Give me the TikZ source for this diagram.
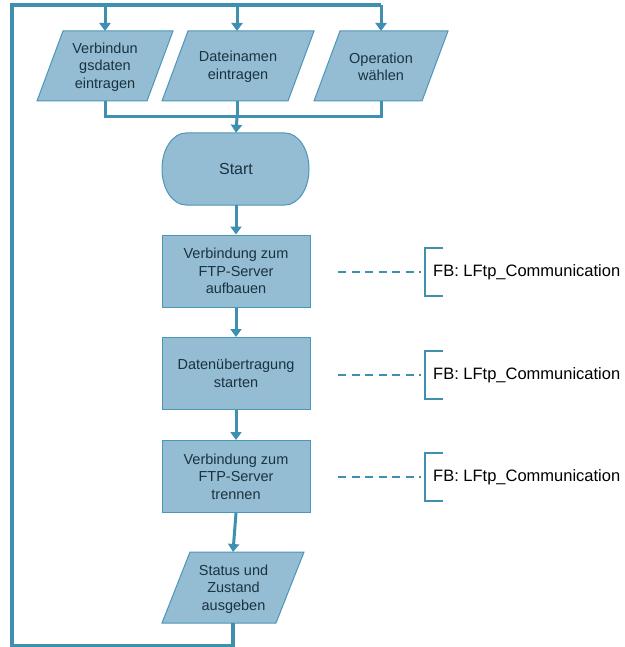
\documentclass[tikz,border=0pt]{standalone}
\usepackage{fontspec}
\setmainfont{Liberation Sans}
\usetikzlibrary{arrows.meta}
\definecolor{lineC}{HTML}{3F8FB0}
\definecolor{fillC}{HTML}{94BCD2}
\definecolor{edgeC}{HTML}{4B97B8}
\definecolor{txtC}{HTML}{1A3340}
\tikzset{
  flow/.style={draw=lineC, line width=3pt, -{Triangle[width=11pt,length=8pt]}},
  plain/.style={draw=lineC, line width=3pt},
  procbox/.style={draw=edgeC, fill=fillC, line width=1pt, minimum width=148pt, minimum height=72pt,
    align=center, font=\fontsize{14.5}{17.5}\selectfont, text=txtC, inner sep=0pt},
  starttext/.style={minimum width=147pt, minimum height=72pt, inner sep=0pt, font=\fontsize{16}{19}\selectfont, text=txtC},
  para/.style={draw=edgeC, fill=fillC, line width=1pt},
  ptext/.style={align=center, font=\fontsize{14.5}{17.5}\selectfont, text=txtC, inner sep=0pt},
  dashlink/.style={draw=lineC, line width=1.5pt, dash pattern=on 8pt off 5.5pt},
  brack/.style={draw=lineC, line width=1.5pt},
  fblabel/.style={anchor=west, font=\fontsize{16.5}{19}\selectfont, text=black, inner sep=0pt},
}
\begin{document}
\begin{tikzpicture}[x=1pt,y=-1pt]
\useasboundingbox (0,0) rectangle (624,647);
% input parallelograms
\draw[para] (37,101) -- (63,31) -- (173,31) -- (147,101) -- cycle;
\node[ptext] (p1) at (105,67) {Verbindun\\gsdaten\\eintragen};
\draw[para] (162,101) -- (188,31) -- (314,31) -- (288,101) -- cycle;
\node[ptext] (p2) at (238,67) {Dateinamen\\eintragen};
\draw[para] (314,101) -- (340,31) -- (448,31) -- (422,101) -- cycle;
\node[ptext] (p3) at (381,67) {Operation\\wählen};
\coordinate (p1t) at (105,31); \coordinate (p1b) at (105,101);
\coordinate (p2t) at (237,31); \coordinate (p2b) at (237,101);
\coordinate (p3t) at (381,31); \coordinate (p3b) at (381,101);
% start terminator
\draw[para] (186,133) -- (285,133) arc[start angle=-90, end angle=90, x radius=24, y radius=36]
  -- (186,205) arc[start angle=90, end angle=270, x radius=24, y radius=36] -- cycle;
\node[starttext] (start) at (236,169) {Start};
% main nodes
\node[procbox] (b1) at (236,271) {Verbindung zum\\FTP-Server\\aufbauen};
\node[procbox] (b2) at (236,373.5) {Datenübertragung\\starten};
\node[procbox] (b3) at (236,476.5) {Verbindung zum\\FTP-Server\\trennen};
\draw[para] (162,623) -- (190,552) -- (304,552) -- (276,623) -- cycle;
\node[ptext] (st) at (233.5,589) {Status und\\Zustand\\ausgeben};
\coordinate (stt) at (233,552); \coordinate (stb) at (233,623);
% loop
\coordinate (bl) at (233,646);
\coordinate (lb) at (12,646);
\coordinate (lt) at (12,5);
\coordinate (d1) at (105,5);
\coordinate (d2) at (237,5);
\coordinate (d3) at (381,5);
\draw[plain, line width=3.5pt] (stb) -- (bl) -- (lb) -- (lt) -- (d3);
\draw[flow] (d1) -- (p1t);
\draw[flow] (d2) -- (p2t);
\draw[flow] (d3) -- (p3t);
% merge
\coordinate (m1) at (105,117);
\coordinate (m2) at (237,117);
\coordinate (m3) at (381,117);
\draw[plain] (p1b) -- (m1) -- (m3) -- (p3b);
\draw[plain] (p2b) -- (m2);
\draw[flow] (m2) -- (start.north);
\draw[flow] (start.south) -- (b1.north);
\draw[flow] (b1.south) -- (b2.north);
\draw[flow] (b2.south) -- (b3.north);
\draw[flow] (b3.south) -- (stt);
% FB labels
\foreach \y/\n in {272/1, 375/2, 477/3}{
  \coordinate (ds\n) at (338,\y);
  \coordinate (de\n) at (421,\y);
  \draw[dashlink] (ds\n) -- (de\n);
  \draw[brack] (443,\y-24) -- (425,\y-24) -- (425,\y+24) -- (443,\y+24);
  \node[fblabel] (fb\n) at (433,\y) {FB: LFtp\_Communication};
}
\end{tikzpicture}
\end{document}
